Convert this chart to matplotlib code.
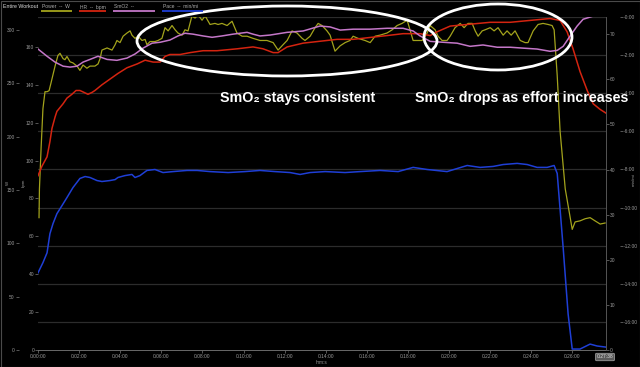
import numpy as np
import matplotlib.pyplot as plt
from matplotlib.patches import Ellipse, Rectangle

plt.rcParams['font.family'] = ['Liberation Sans', 'DejaVu Sans']

# ---------------------------------------------------------------
# data (time in minutes from start)
# ---------------------------------------------------------------
power_t = [0.05, 0.07, 0.15, 0.24, 0.34, 0.44, 0.54, 0.63, 0.83, 0.97, 1.07, 1.22, 1.31, 1.41, 1.56,
           1.70, 1.90, 2.04, 2.19, 2.38, 2.53, 2.77, 2.92, 3.02, 3.11, 3.36, 3.60, 3.75, 3.84, 3.99,
           4.14, 4.33, 4.48, 4.57, 4.72, 4.87, 5.06, 5.21, 5.30, 5.45, 5.69, 5.84, 6.03, 6.18, 6.33,
           6.52, 6.67, 6.81, 7.01, 7.15, 7.30, 7.49, 7.64, 7.79, 7.98, 8.13, 8.37, 8.61, 8.76, 8.95,
           9.20, 9.44, 9.68, 9.93, 10.17, 10.46, 10.80, 11.14, 11.44, 11.68, 11.92, 12.12, 12.36,
           12.60, 12.85, 12.99, 13.24, 13.48, 13.63, 13.82, 14.06, 14.21, 14.45, 14.70, 14.94, 15.18,
           15.33, 15.57, 15.91, 16.16, 16.40, 16.64, 16.98, 17.23, 17.47, 17.71, 17.96, 18.10, 18.25,
           18.44, 18.69, 18.93, 19.08, 19.32, 19.46, 19.66, 19.90, 20.05, 20.29, 20.54, 20.73, 20.92,
           21.12, 21.27, 21.41, 21.61, 21.75, 22.00, 22.19, 22.38, 22.63, 22.82, 23.02, 23.21, 23.46,
           23.70, 23.84, 24.09, 24.33, 24.57, 24.82, 25.01, 25.11, 25.26, 25.40, 25.65, 25.99, 26.13,
           26.37, 26.62, 26.86, 27.10, 27.35, 27.59]
power_w = [124, 151, 189, 226, 242, 242, 243, 250, 266, 276, 278, 273, 272, 275, 270,
           269, 266, 262, 267, 264, 266, 266, 268, 273, 281, 283, 281, 286, 290, 288,
           294, 297, 299, 295, 292, 294, 290, 291, 286, 289, 289, 290, 292, 302, 299,
           304, 300, 297, 295, 300, 299, 313, 311, 314, 309, 313, 305, 306, 305, 306,
           304, 308, 297, 294, 294, 292, 290, 290, 288, 281, 286, 290, 299,
           297, 292, 290, 294, 302, 306, 304, 299, 295, 280, 285, 288, 290,
           294, 292, 290, 288, 294, 295, 297, 300, 304, 306, 309, 300, 290,
           290, 290, 297, 304, 300, 294, 290, 290, 294, 302, 306, 302, 306,
           306, 299, 294, 299, 300, 302, 299, 302, 295, 299, 295, 299, 290,
           288, 288, 299, 305, 306, 305, 304, 300, 257, 205, 151, 113, 120,
           121, 123, 124, 121, 118, 119]

hr_t = [0.0, 0.19, 0.44, 0.58, 0.68, 0.83, 0.92, 1.07, 1.22, 1.41, 1.65, 1.85, 2.04, 2.24, 2.43,
        2.63, 2.77, 3.11, 3.50, 3.89, 4.33, 4.82, 5.21, 5.60, 5.94, 6.18, 6.42, 6.91, 7.40, 8.03,
        8.71, 9.68, 10.46, 10.95, 11.44, 11.68, 12.12, 12.90, 13.72, 14.55, 15.33, 16.16, 16.98,
        17.76, 18.20, 18.59, 19.08, 19.42, 20.05, 21.02, 22.00, 22.97, 23.94, 24.91, 25.40, 25.74,
        26.03, 26.37, 26.72, 27.01, 27.35, 27.64]
hr_bpm = [92, 97, 102, 110, 117, 123, 126, 128, 130, 133, 135, 137, 137, 136, 135,
          136, 137, 140, 143, 146, 149, 151, 153, 152, 152, 155, 156, 156, 157, 158,
          158, 159, 160, 159, 157, 157, 160, 162, 163, 164, 164, 165, 166,
          167, 167, 167, 166, 168, 171, 172, 173, 173, 174, 175, 174, 168,
          159, 147, 137, 130, 127, 125]

smo2_t = [0.0, 0.44, 0.83, 1.22, 1.56, 1.90, 2.19, 2.53, 2.92, 3.36, 3.84, 4.33, 4.72, 5.11, 5.55,
          5.94, 6.42, 6.81, 7.15, 7.54, 8.03, 8.47, 8.95, 9.49, 10.17, 10.46, 10.80, 11.29, 12.12,
          12.90, 13.72, 14.21, 14.70, 15.33, 16.16, 16.98, 17.76, 18.25, 18.59, 19.08, 19.71, 20.39,
          21.02, 21.65, 22.34, 22.97, 23.60, 24.28, 24.91, 25.26, 25.55, 25.89, 26.23, 26.52, 27.01,
          27.64]
smo2_pct = [66.7, 65.1, 63.8, 62.9, 62.7, 62.9, 63.8, 64.4, 65.1, 64.4, 64.2, 64.7, 65.6, 66.9, 68.0,
            68.2, 68.7, 69.6, 70.2, 70.0, 69.6, 69.3, 69.6, 70.0, 70.4, 70.0, 69.6, 69.8, 70.4,
            70.7, 71.8, 71.6, 70.9, 71.1, 71.1, 71.3, 71.3, 70.7, 69.6, 68.4, 68.2, 68.0,
            67.3, 67.6, 67.1, 67.1, 66.9, 66.7, 66.2, 66.4, 67.3, 69.6, 71.8, 73.3, 74.0,
            74.0]

pace_t = [0.0, 0.24, 0.44, 0.58, 0.73, 0.92, 1.17, 1.41, 1.70, 2.04, 2.29, 2.53, 2.87, 3.11, 3.50,
          3.75, 3.89, 4.23, 4.57, 4.72, 4.96, 5.30, 5.69, 6.08, 6.57, 7.25, 7.74, 8.37, 9.25, 10.07,
          10.80, 11.53, 12.26, 12.75, 13.24, 13.97, 14.94, 15.67, 16.64, 17.52, 18.25, 18.93, 19.90,
          20.39, 20.88, 21.51, 22.14, 22.63, 23.31, 23.80, 24.28, 24.77, 25.11, 25.26, 25.55, 25.79,
          25.99, 26.37, 26.86, 27.20, 27.64]
pace_min = [13.42, 12.89, 12.37, 11.37, 10.84, 10.32, 9.89, 9.47, 8.95, 8.47, 8.37, 8.42, 8.58, 8.63, 8.58,
            8.53, 8.42, 8.32, 8.26, 8.42, 8.32, 8.05, 8.00, 8.16, 8.11, 8.05, 8.05, 8.11, 8.16, 8.11,
            8.05, 8.11, 8.16, 8.26, 8.16, 8.11, 8.16, 8.11, 8.05, 8.11, 7.89, 8.00, 8.11,
            7.95, 7.79, 7.89, 7.84, 7.74, 7.68, 7.74, 7.89, 7.89, 7.79, 8.21, 12.11, 15.58,
            17.42, 17.42, 17.16, 17.26, 17.32]

x_ticks = list(range(0, 27, 2))
x_labels = ['0:%02d:00' % m for m in x_ticks]
end_label = '0:27:38'
t_end = 27 + 38 / 60

W_PX, H_PX = 640, 367
tick_col = '#7a7a7a'
lab_col = '#9a9a9a'
fs = 3.5

# ---------------------------------------------------------------
# figure / axes
# ---------------------------------------------------------------
fig = plt.figure(figsize=(6.4, 3.67), dpi=100, facecolor='black')
rect = [38 / W_PX, 17 / H_PX, 568 / W_PX, 333 / H_PX]

ax_pace = fig.add_axes(rect)
ax_pace.set_facecolor('black')
ax_w = ax_pace.twinx()
ax_hr = ax_pace.twinx()
ax_sm = ax_pace.twinx()

ax_pace.plot(pace_t, pace_min, color='#1f3fd6', lw=1.1)
ax_w.plot(power_t, power_w, color='#a3a31c', lw=0.9)
ax_hr.plot(hr_t, hr_bpm, color='#d42410', lw=1.1)
ax_sm.plot(smo2_t, smo2_pct, color='#c477c8', lw=1.1)

ax_pace.set_xlim(0, t_end)
ax_pace.set_ylim(17.47, 0)
ax_w.set_ylim(0, 312)
ax_hr.set_ylim(0, 175.8)
ax_sm.set_ylim(0, 73.8)

for a in (ax_pace, ax_w, ax_hr, ax_sm):
    for s in a.spines.values():
        s.set_visible(False)
    a.tick_params(axis='both', length=2, width=0.5, color=tick_col,
                  labelcolor=lab_col, labelsize=fs, pad=0.8)

# pace axis on the far right, also carries the grid
ax_pace.yaxis.tick_right()
ax_pace.spines['right'].set_position(('outward', 10))
ax_pace.set_yticks(range(0, 17, 2))
ax_pace.set_yticklabels(['-%d:00' % v for v in range(0, 17, 2)])
ax_pace.yaxis.grid(True, color='#2c2c2c', lw=0.9)
ax_pace.set_axisbelow(True)
ax_pace.spines['bottom'].set_visible(True)
ax_pace.spines['bottom'].set_color('#6a6a6a')
ax_pace.spines['bottom'].set_linewidth(0.7)
ax_pace.set_xticks(x_ticks)
ax_pace.set_xticklabels(x_labels)
ax_pace.set_xlabel('h:m:s', fontsize=3.4, color=lab_col, labelpad=1)

# power axis, left, offset
ax_w.yaxis.tick_left()
ax_w.spines['left'].set_position(('outward', 14))
ax_w.set_yticks(range(0, 301, 50))

# heart rate axis, left at plot edge
ax_hr.yaxis.tick_left()
ax_hr.set_yticks(range(0, 161, 20))

# SmO2 axis, right at plot edge
ax_sm.yaxis.tick_right()
ax_sm.set_yticks(range(0, 71, 10))
ax_sm.spines['right'].set_visible(True)
ax_sm.spines['right'].set_color('#555555')
ax_sm.spines['right'].set_linewidth(0.7)

# ---------------------------------------------------------------
# overlay in pixel coordinates: header, labels, callouts
# ---------------------------------------------------------------
ov = fig.add_axes([0, 0, 1, 1])
ov.set_xlim(0, W_PX)
ov.set_ylim(H_PX, 0)
ov.axis('off')

ov.add_patch(Rectangle((0.5, 0.5), W_PX - 1, H_PX - 1, fill=False, ec='#4a4a4a', lw=0.8))

ov.text(3, 7, 'Entire Workout', color='#e0e0e0', fontsize=3.8, va='center')
legend_items = [('Power  --  W', '#a3a31c', 42, 72),
                ('HR  --  bpm', '#d42410', 80, 106),
                ('SmO2  --', '#c477c8', 114, 155),
                ('Pace  --  min/mi', '#1f3fd6', 163, 203)]
for lab, col, x0, x1 in legend_items:
    ov.text(x0, 7, lab, color='#aaaaaa', fontsize=3.6, va='center')
    ov.plot([x0 - 1, x1], [11, 11], color=col, lw=1.3, solid_capstyle='butt')

ov.text(8, 183, 'W', color=lab_col, fontsize=3.2, rotation=90, ha='center', va='center')
ov.text(24, 183, 'bpm', color=lab_col, fontsize=3.2, rotation=90, ha='center', va='center')
ov.text(634, 180, 'min/mi', color=lab_col, fontsize=3.2, rotation=90, ha='center', va='center')

ov.text(605, 357, end_label, color='#dddddd', fontsize=3.6, ha='center', va='center',
        bbox=dict(boxstyle='round,pad=0.25', fc='#5a5a5a', ec='#aaaaaa', lw=0.5))

ov.add_patch(Ellipse((287, 41), 300, 70, fill=False, ec='white', lw=2.0))
ov.add_patch(Ellipse((498, 37), 148, 66, fill=False, ec='white', lw=2.0))

ov.text(220, 98, 'SmO\u2082 stays consistent', color='white', fontsize=10.3,
        fontweight='bold', ha='left', va='center')
ov.text(415, 98, 'SmO\u2082 drops as effort increases', color='white', fontsize=10.3,
        fontweight='bold', ha='left', va='center')

fig.savefig('out.png', dpi=100, facecolor='black')
